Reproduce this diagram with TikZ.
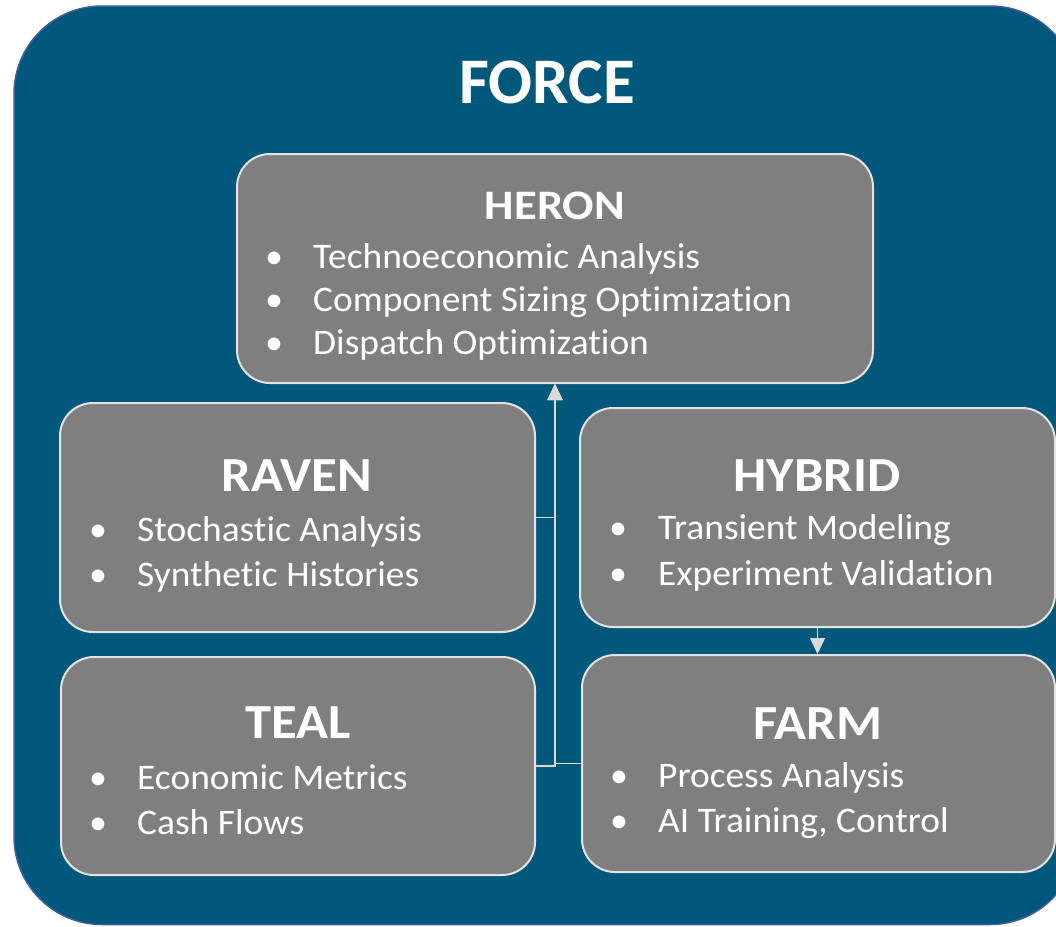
\documentclass[tikz,border=0pt]{standalone}
\usepackage{fontspec}
\setmainfont{Carlito}[Ligatures=NoCommon]
\newfontfamily\itemfont{Carlito}[Ligatures=NoCommon, FakeStretch=1.04]
\newfontfamily\heronfont{Carlito}[Ligatures=NoCommon, FakeStretch=1.11]
\newfontfamily\ttlfont{Carlito}[Ligatures=NoCommon, FakeStretch=1.075]
\usetikzlibrary{arrows.meta}
\definecolor{bgteal}{HTML}{02587A}
\definecolor{bgedge}{HTML}{3F5D9A}
\definecolor{boxgray}{HTML}{7F7F7F}
\definecolor{boxedge}{HTML}{E3E3E3}
\definecolor{conn}{HTML}{D9D9D9}
\begin{document}
\begin{tikzpicture}[x=1pt,y=-1pt,
  modbox/.style={draw=boxedge, line width=2pt, fill=boxgray, rounded corners=33pt, inner sep=0pt},
  maintitle/.style={text=white, font=\bfseries\fontsize{65}{70}\selectfont, anchor=base, inner sep=0pt},
  bigttl/.style={text=white, font=\ttlfont\bfseries\fontsize{49}{52}\selectfont, anchor=base, inner sep=0pt},
  smallttl/.style={text=white, font=\heronfont\bfseries\fontsize{42}{45}\selectfont, anchor=base, inner sep=0pt},
  itemtext/.style={text=white, font=\itemfont\fontsize{36}{40}\selectfont, anchor=base west, inner sep=0pt},
  bul/.style={text=white, font=\fontsize{36}{40}\selectfont, anchor=base, inner sep=0pt},
  link/.style={draw=conn, line width=1.5pt, -{Triangle[length=16pt,width=15pt]}}]
\useasboundingbox (0,0) rectangle (1056,926);
\begin{scope}
  \clip (0,0) rectangle (1056,926);
  \draw[draw=bgedge, fill=bgteal, line width=1.5pt, rounded corners=88pt] (14,6) rectangle (1078,924.5);
\end{scope}
\node[maintitle] (force) at (547,103) {FORCE};
% boxes
\node[modbox, minimum width=636pt, minimum height=229pt] (heron) at (555,268.5) {};
\node[modbox, minimum width=475pt, minimum height=229pt] (raven) at (297.5,517.5) {};
\node[modbox, minimum width=475pt, minimum height=219pt] (hybrid) at (817.5,517.5) {};
\node[modbox, minimum width=474pt, minimum height=218pt] (teal) at (298,766) {};
\node[modbox, minimum width=473pt, minimum height=217pt] (farm) at (818.5,763.5) {};
% connectors
\draw[link] (raven.east) -| (heron.south);
\draw[link] (teal.east) -| (heron.south);
\draw[link] (farm.west) -| (heron.south);
\draw[link] (hybrid.south) -- (hybrid.south |- farm.north);
% HERON text
\node[smallttl] (heront) at (555,219) {HERON};
\node[bul] (heronb1) at (274,268) {•};
\node[itemtext] (heron1) at (313,268) {Technoeconomic Analysis};
\node[bul] (heronb2) at (274,311) {•};
\node[itemtext] (heron2) at (313,311) {Component Sizing Optimization};
\node[bul] (heronb3) at (274,354) {•};
\node[itemtext] (heron3) at (313,354) {Dispatch Optimization};
% RAVEN text
\node[bigttl] (ravent) at (297,491) {RAVEN};
\node[bul] (ravenb1) at (98,541) {•};
\node[itemtext] (raven1) at (137,541) {Stochastic Analysis};
\node[bul] (ravenb2) at (98,586) {•};
\node[itemtext] (raven2) at (137,586) {Synthetic Histories};
% HYBRID text
\node[bigttl] (hybridt) at (817,491) {HYBRID};
\node[bul] (hybridb1) at (618,539) {•};
\node[itemtext] (hybrid1) at (658,539) {Transient Modeling};
\node[bul] (hybridb2) at (618,585) {•};
\node[itemtext] (hybrid2) at (658,585) {Experiment Validation};
% TEAL text
\node[bigttl] (tealt) at (298,738) {TEAL};
\node[bul] (tealb1) at (98,789) {•};
\node[itemtext] (teal1) at (137,789) {Economic Metrics};
\node[bul] (tealb2) at (98,834) {•};
\node[itemtext] (teal2) at (137,834) {Cash Flows};
% FARM text
\node[bigttl] (farmt) at (818,739) {FARM};
\node[bul] (farmb1) at (619,787) {•};
\node[itemtext] (farm1) at (658,787) {Process Analysis};
\node[bul] (farmb2) at (619,832) {•};
\node[itemtext] (farm2) at (658,832) {AI Training, Control};
\end{tikzpicture}
\end{document}
